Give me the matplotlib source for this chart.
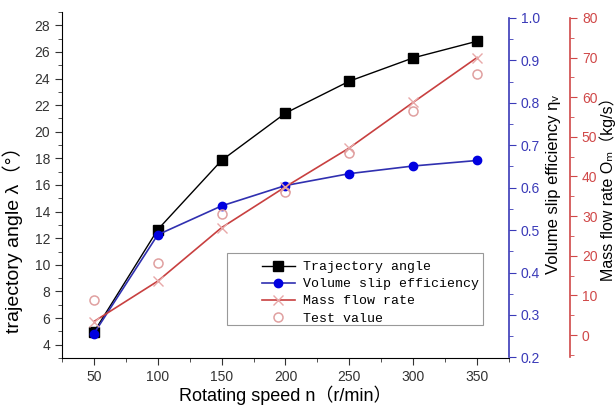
import numpy as np
import matplotlib
matplotlib.use("Agg")
import matplotlib.pyplot as plt
from matplotlib.ticker import MultipleLocator
from matplotlib.patches import Rectangle

plt.rcParams['font.family'] = ['Liberation Sans', 'DejaVu Sans', 'Noto Sans CJK SC']

# data
speed = [50, 100, 150, 200, 250, 300, 350]
angle = [4.95, 12.65, 17.85, 21.4, 23.8, 25.55, 26.8]
slip_eff = [0.256, 0.489, 0.557, 0.605, 0.633, 0.651, 0.664]
mass_flow = [3.4, 13.6, 27.1, 37.4, 47.2, 58.7, 70.0]
test_value = [8.8, 18.1, 30.5, 36.0, 46.0, 56.6, 65.8]

blue_ax = '#3a3ab8'
red_ax = '#d04848'

fig = plt.figure(figsize=(6.16, 4.12), dpi=100)
ax = fig.add_axes([0.1006, 0.131, 0.7257, 0.840])
ax2 = ax.twinx()
ax3 = ax.twinx()

l1, = ax.plot(speed, angle, color='black', lw=1, marker='s', ms=7,
              label='Trajectory angle')
l2, = ax2.plot(speed, slip_eff, color='#3030b0', lw=1.2, marker='o', ms=6,
               mfc='#0000e0', mec='#0000e0', label='Volume slip efficiency')
l3, = ax3.plot(speed, mass_flow, color='#c84040', lw=1.2, marker='x', ms=7,
               mec='#e8a8a8', label='Mass flow rate')
l4, = ax3.plot(speed, test_value, ls='none', marker='o', ms=6.5, mfc='none',
               mec='#e0a0a0', mew=1.1, label='Test value')

# left axis
ax.set_xlim(25, 375)
ax.set_ylim(3, 29)
ax.xaxis.set_major_locator(MultipleLocator(50))
ax.xaxis.set_minor_locator(MultipleLocator(25))
ax.yaxis.set_major_locator(MultipleLocator(2))
ax.yaxis.set_minor_locator(MultipleLocator(1))
ax.spines['top'].set_visible(False)
ax.spines['right'].set_visible(False)
ax.tick_params(which='both', direction='out', labelsize=10, colors='#333333')
ax.tick_params(which='major', length=5)
ax.tick_params(which='minor', length=3)
ax.set_xlabel('Rotating speed n（r/min）', fontsize=13, labelpad=1)
ax.set_ylabel('trajectory angle λ（°）', fontsize=14)
ax.yaxis.set_label_coords(-0.088, 0.355)

# blue axis
ax2.set_ylim(0.1985, 1.014)
ax2.yaxis.set_major_locator(MultipleLocator(0.1))
ax2.yaxis.set_minor_locator(MultipleLocator(0.05))
for s in ['top', 'left', 'bottom']:
    ax2.spines[s].set_visible(False)
ax2.spines['right'].set_color(blue_ax)
ax2.spines['right'].set_linewidth(1.2)
ax2.spines['right'].set_bounds(0.2, 1.0)
ax2.tick_params(which='both', direction='out', colors=blue_ax, labelsize=10)
ax2.tick_params(which='major', length=5)
ax2.tick_params(which='minor', length=3)
ax2.set_ylabel('Volume slip efficiency ηᵥ', fontsize=12, labelpad=4)

# red axis
ax3.set_ylim(-5.8, 81.5)
ax3.yaxis.set_major_locator(MultipleLocator(10))
ax3.yaxis.set_minor_locator(MultipleLocator(5))
for s in ['top', 'left', 'bottom']:
    ax3.spines[s].set_visible(False)
ax3.spines['right'].set_position(('outward', 44))
ax3.spines['right'].set_color(red_ax)
ax3.spines['right'].set_linewidth(1.2)
ax3.spines['right'].set_bounds(-5.5, 80)
ax3.set_yticks([0, 10, 20, 30, 40, 50, 60, 70, 80])
ax3.tick_params(which='both', direction='out', colors=red_ax, labelsize=10)
ax3.tick_params(which='major', length=5)
ax3.tick_params(which='minor', length=3)
ax3.set_ylabel('Mass flow rate Oₘ（kg/s）', fontsize=11.5, labelpad=1)

# legend box drawn by hand so the handles can sit further in
box = Rectangle((227 / 616, 1 - 325 / 412), 256 / 616, 72 / 412,
                transform=fig.transFigure, facecolor='white',
                edgecolor='#999999', lw=0.8, zorder=4.5, clip_on=False)
ax3.add_patch(box)
leg = ax3.legend(handles=[l1, l2, l3, l4], loc='upper left',
                 bbox_to_anchor=(262 / 616, 1 - 261 / 412),
                 bbox_transform=fig.transFigure, frameon=False,
                 borderpad=0, borderaxespad=0,
                 labelspacing=0.37, handlelength=2.5, handletextpad=0.6,
                 prop={'family': 'Liberation Mono', 'size': 9.5})

fig.savefig('out.png', dpi=100)
